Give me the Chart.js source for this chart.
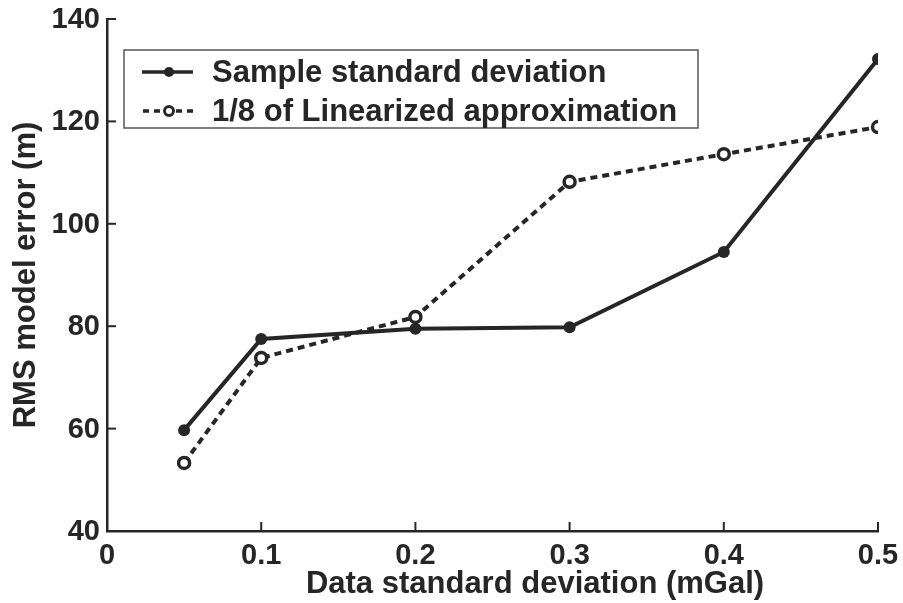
<!DOCTYPE html>
<html>
<head>
<meta charset="utf-8">
<script src="https://cdn.jsdelivr.net/npm/chart.js@4/dist/chart.umd.min.js"></script>
<style>
  html, body { margin: 0; padding: 0; background: #fff; }
  #wrap { width: 903px; height: 603px; position: relative; }
</style>
</head>
<body>
<div id="wrap"><canvas id="c" width="903" height="603"></canvas></div>
<script>
// data
const xValues = [0.05, 0.1, 0.2, 0.3, 0.4, 0.5];
const sampleStd = [59.7, 77.5, 79.5, 79.8, 94.5, 132.2];
const linearizedEighth = [53.3, 73.8, 81.8, 108.2, 113.6, 118.9];
const seriesNames = ['Sample standard deviation', '1/8 of Linearized approximation'];
const xTitle = 'Data standard deviation (mGal)';
const yTitle = 'RMS model error (m)';

const INK = '#262626';
const FONT = 'Liberation Sans, Arial, Helvetica, sans-serif';

// inward ticks, tick labels, x title and boxed legend
const extras = {
  id: 'extras',
  afterDraw(chart) {
    const ctx = chart.ctx;
    const xs = chart.scales.x, ys = chart.scales.y;
    const area = chart.chartArea;
    ctx.save();
    ctx.strokeStyle = INK;
    ctx.fillStyle = INK;
    ctx.lineWidth = 2;
    ctx.font = 'bold 29px ' + FONT;
    xs.ticks.forEach(t => {
      const px = xs.getPixelForValue(t.value);
      ctx.beginPath();
      ctx.moveTo(px, area.bottom);
      ctx.lineTo(px, area.bottom - 9);
      ctx.stroke();
      ctx.textAlign = 'center';
      ctx.textBaseline = 'alphabetic';
      ctx.fillText(String(Math.round(t.value * 10) / 10), px, area.bottom + 33);
    });
    ys.ticks.forEach(t => {
      const py = ys.getPixelForValue(t.value);
      ctx.beginPath();
      ctx.moveTo(area.left, py);
      ctx.lineTo(area.left + 9, py);
      ctx.stroke();
      ctx.textAlign = 'right';
      ctx.textBaseline = 'middle';
      ctx.fillText(String(t.value), area.left - 7, py + 1);
    });

    ctx.font = 'bold 31px ' + FONT;
    ctx.textAlign = 'center';
    ctx.textBaseline = 'alphabetic';
    ctx.fillText(xTitle, 535, 593);

    // legend box
    const bx = 124, by = 50, bw = 574, bh = 78;
    ctx.fillStyle = '#fff';
    ctx.fillRect(bx, by, bw, bh);
    ctx.lineWidth = 1.5;
    ctx.strokeStyle = '#555';
    ctx.strokeRect(bx, by, bw, bh);

    const rows = [72, 111];
    ctx.strokeStyle = INK;
    ctx.lineWidth = 3.5;
    ctx.beginPath();
    ctx.moveTo(142, rows[0]); ctx.lineTo(193, rows[0]); ctx.stroke();
    ctx.fillStyle = INK;
    ctx.beginPath(); ctx.arc(169, rows[0], 5, 0, Math.PI * 2); ctx.fill();
    ctx.setLineDash([6, 5]);
    ctx.beginPath();
    ctx.moveTo(143, rows[1]); ctx.lineTo(195, rows[1]); ctx.stroke();
    ctx.setLineDash([]);
    ctx.fillStyle = '#fff';
    ctx.lineWidth = 3;
    ctx.beginPath(); ctx.arc(169, rows[1], 4.5, 0, Math.PI * 2); ctx.fill(); ctx.stroke();

    ctx.fillStyle = INK;
    ctx.font = 'bold 31px ' + FONT;
    ctx.textAlign = 'left';
    ctx.textBaseline = 'middle';
    ctx.fillText(seriesNames[0], 212, rows[0] + 1);
    ctx.fillText(seriesNames[1], 212, rows[1] + 1);
    ctx.restore();
  }
};

const points = (ys) => xValues.map((x, i) => ({ x, y: ys[i] }));

new Chart(document.getElementById('c').getContext('2d'), {
  type: 'line',
  data: {
    datasets: [
      {
        label: seriesNames[0],
        data: points(sampleStd),
        borderColor: INK,
        backgroundColor: INK,
        borderWidth: 4,
        pointRadius: 6,
        pointBorderWidth: 0,
        pointBackgroundColor: INK,
        tension: 0,
      },
      {
        label: seriesNames[1],
        data: points(linearizedEighth),
        borderColor: INK,
        borderDash: [7, 5],
        borderWidth: 4,
        pointRadius: 5.5,
        pointBorderWidth: 3.5,
        pointBorderColor: INK,
        pointBackgroundColor: '#fff',
        tension: 0,
      },
    ],
  },
  options: {
    responsive: false,
    animation: false,
    layout: { padding: { top: 19, right: 25, left: 0, bottom: 0 } },
    plugins: { legend: { display: false }, tooltip: { enabled: false } },
    scales: {
      x: {
        type: 'linear',
        min: 0,
        max: 0.5,
        grid: { display: false, drawTicks: false },
        border: { color: INK, width: 2.5 },
        ticks: { stepSize: 0.1, display: false },
        afterFit: (s) => { s.height = 72; },
      },
      y: {
        min: 40,
        max: 140,
        grid: { display: false, drawTicks: false },
        border: { color: INK, width: 2.5 },
        ticks: { stepSize: 20, display: false },
        title: {
          display: true,
          text: yTitle,
          color: INK,
          padding: { top: 8, bottom: 0 },
          font: { family: FONT, size: 31, weight: 'bold', lineHeight: 1.2 },
        },
        afterFit: (s) => { s.width = 107; },
      },
    },
  },
  plugins: [extras],
});
</script>
</body>
</html>
